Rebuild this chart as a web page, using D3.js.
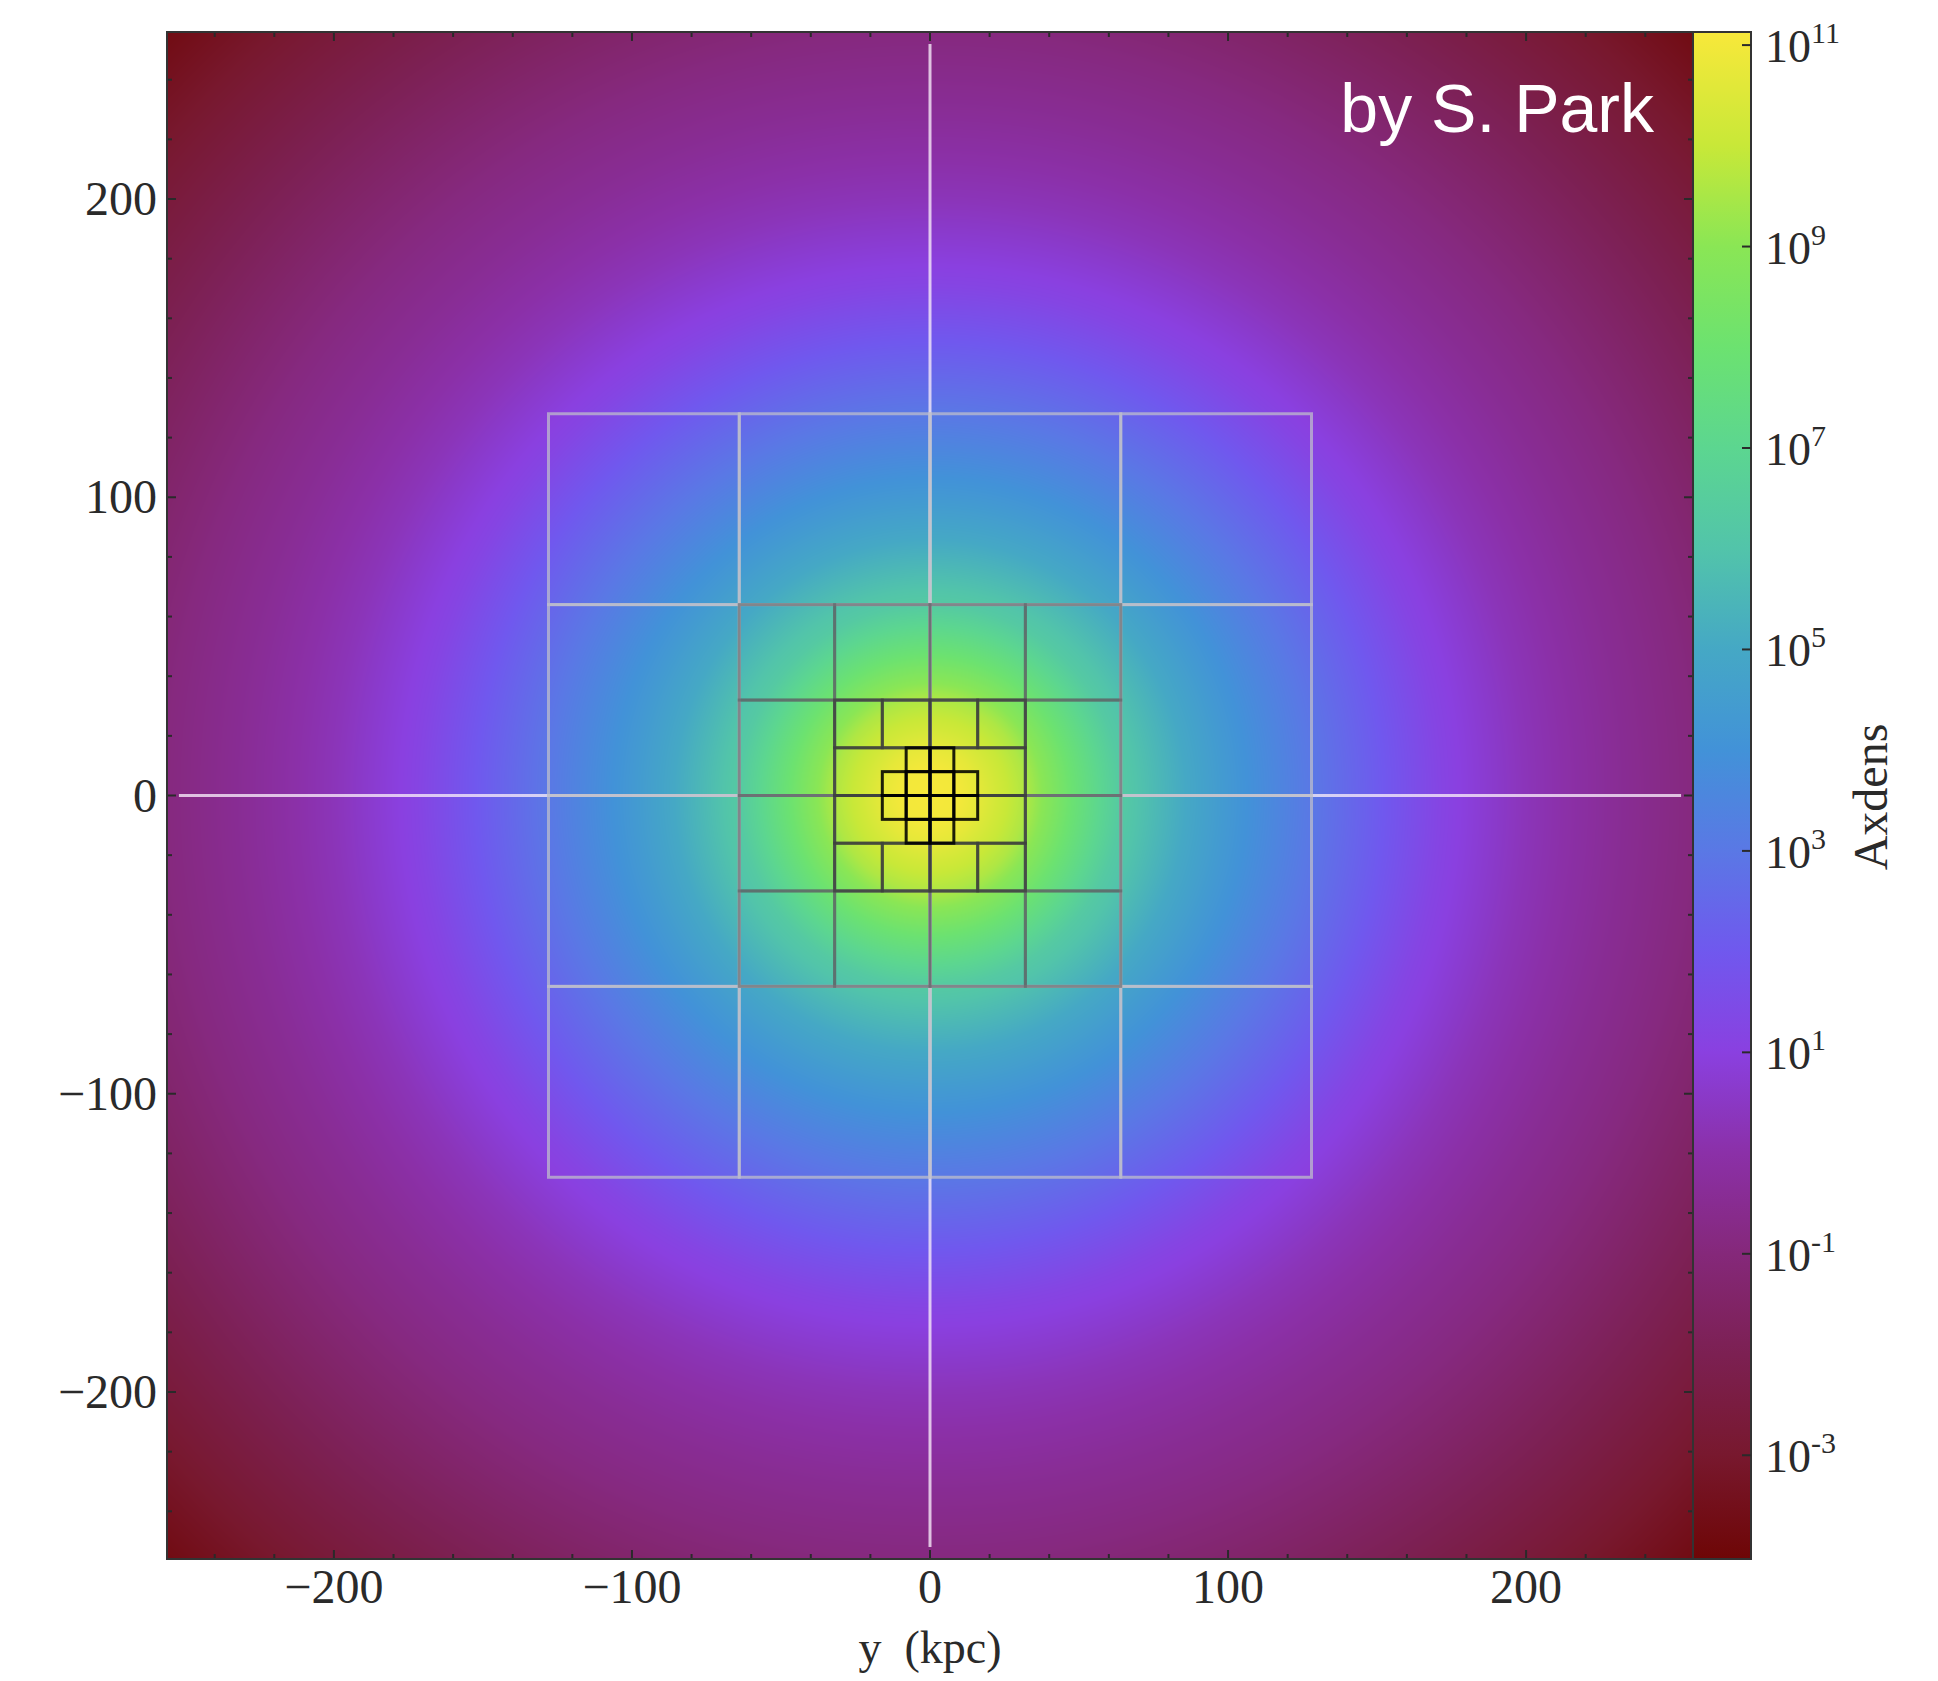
<!DOCTYPE html>
<html>
<head>
<meta charset="utf-8">
<script src="https://cdn.jsdelivr.net/npm/d3@7"></script>
<style>
  html, body { margin: 0; padding: 0; background: #ffffff; }
  svg { display: block; }
</style>
</head>
<body>
<svg id="chart" width="1938" height="1681"></svg>
<script>
// ---- Data -------------------------------------------------------------
// Radial density profile of the halo: radius (kpc) and log10(Axdens)
const profileRadius = [0, 10, 16, 20, 32, 48, 64, 86, 100, 128, 150, 171, 200, 230, 256, 300, 330, 365];
const profileLogDens = [11.1, 11.0, 10.7, 10.4, 9.6, 7.9, 6.3, 5.0, 4.3, 3.0, 2.1, 1.2, 0.3, -0.4, -0.9, -2.0, -2.8, -3.8];

// Colour map: log10(Axdens) stops and colours
const cmapLog = [-4.03, -3, -2, -1, 0, 1, 2, 3, 4, 5, 6, 7, 8, 9, 10, 11.13];
const cmapColor = ["#6e0606", "#78182e", "#7c2052", "#85287a", "#8b30a8", "#8a40e0", "#7058ee", "#5a78e5",
                   "#4292d8", "#45a8c5", "#52c4aa", "#5cd690", "#6ce270", "#8ae655", "#c8e838", "#f8e83a"];

// Axis ticks (kpc) and colour-bar ticks (log10)
const majorTicks = [-200, -100, 0, 100, 200];
const minorTicks = [-240, -220, -180, -160, -140, -120, -80, -60, -40, -20, 20, 40, 60, 80, 120, 140, 160, 180, 220, 240];
const cbarTicks = [-3, -1, 1, 3, 5, 7, 9, 11];
const domainKpc = [-256, 256];
const crossExtent = [-252, 252];

// Mesh blocks per refinement level: [x0, y0, width, height] in kpc
const meshLevel0 = [
  [-128, 64, 64, 64], [-64, 64, 64, 64], [0, 64, 64, 64], [64, 64, 64, 64],
  [-128, 0, 64, 64], [-64, 0, 64, 64], [0, 0, 64, 64], [64, 0, 64, 64],
  [-128, -64, 64, 64], [-64, -64, 64, 64], [0, -64, 64, 64], [64, -64, 64, 64],
  [-128, -128, 64, 64], [-64, -128, 64, 64], [0, -128, 64, 64], [64, -128, 64, 64]
];
const meshLevel1 = [
  [-64, 32, 32, 32], [-32, 32, 32, 32], [0, 32, 32, 32], [32, 32, 32, 32],
  [-64, 0, 32, 32], [-32, 0, 32, 32], [0, 0, 32, 32], [32, 0, 32, 32],
  [-64, -32, 32, 32], [-32, -32, 32, 32], [0, -32, 32, 32], [32, -32, 32, 32],
  [-64, -64, 32, 32], [-32, -64, 32, 32], [0, -64, 32, 32], [32, -64, 32, 32]
];
const meshLevel2 = [
  [-32, 16, 16, 16], [-16, 16, 16, 16], [0, 16, 16, 16], [16, 16, 16, 16],
  [-32, 0, 32, 16], [0, 0, 32, 16], [-32, -16, 32, 16], [0, -16, 32, 16],
  [-32, -32, 16, 16], [-16, -32, 16, 16], [0, -32, 16, 16], [16, -32, 16, 16]
];
const meshLevel3 = [
  [-8, 8, 8, 8], [0, 8, 8, 8],
  [-16, 0, 8, 8], [-8, 0, 8, 8], [0, 0, 8, 8], [8, 0, 8, 8],
  [-16, -8, 8, 8], [-8, -8, 8, 8], [0, -8, 8, 8], [8, -8, 8, 8],
  [-8, -16, 8, 8], [0, -16, 8, 8]
];

// ---- Layout -----------------------------------------------------------
const plot = { left: 167, top: 32, right: 1693, bottom: 1559 };
const cbar = { left: 1693, right: 1751 };
const serif = "'Liberation Serif', 'Times New Roman', serif";

const svg = d3.select("#chart");
const x = d3.scaleLinear().domain(domainKpc).range([plot.left, plot.right]);
const y = d3.scaleLinear().domain(domainKpc).range([plot.bottom, plot.top]);
const profile = d3.scaleLinear().domain(profileRadius).range(profileLogDens).clamp(true);
const color = d3.scaleLinear().domain(cmapLog).range(cmapColor).interpolate(d3.interpolateRgb).clamp(true);
const cy = d3.scaleLinear().domain([cmapLog[0], cmapLog[cmapLog.length - 1]]).range([plot.bottom, plot.top]);

// ---- Density image ----------------------------------------------------
const W = plot.right - plot.left, H = plot.bottom - plot.top;
const canvas = document.createElement("canvas");
canvas.width = W; canvas.height = H;
const ctx = canvas.getContext("2d");
const img = ctx.createImageData(W, H);
// lookup table of colours against radius, 0.05 kpc steps
const step = 0.05, lutN = Math.ceil(400 / step);
const lut = new Uint8Array(lutN * 3);
for (let i = 0; i < lutN; i++) {
  const c = d3.rgb(color(profile(i * step)));
  lut[i * 3] = c.r; lut[i * 3 + 1] = c.g; lut[i * 3 + 2] = c.b;
}
for (let j = 0; j < H; j++) {
  const yk = y.invert(plot.top + j + 0.5);
  for (let i = 0; i < W; i++) {
    const xk = x.invert(plot.left + i + 0.5);
    const r = Math.sqrt(xk * xk + yk * yk);
    const k = Math.min(lutN - 1, Math.round(r / step)) * 3;
    const p = (j * W + i) * 4;
    img.data[p] = lut[k]; img.data[p + 1] = lut[k + 1]; img.data[p + 2] = lut[k + 2]; img.data[p + 3] = 255;
  }
}
ctx.putImageData(img, 0, 0);
svg.append("image")
  .attr("x", plot.left).attr("y", plot.top)
  .attr("width", W).attr("height", H)
  .attr("preserveAspectRatio", "none")
  .attr("href", canvas.toDataURL());

// ---- Centre cross -----------------------------------------------------
const cross = svg.append("g").attr("stroke", "rgba(245,232,248,0.8)").attr("stroke-width", 3);
cross.append("line").attr("x1", x(0)).attr("x2", x(0)).attr("y1", y(crossExtent[1])).attr("y2", y(crossExtent[0]));
cross.append("line").attr("y1", y(0)).attr("y2", y(0)).attr("x1", x(crossExtent[0])).attr("x2", x(crossExtent[1]));

// ---- Mesh blocks ------------------------------------------------------
function drawMesh(blocks, stroke, width) {
  svg.append("g").selectAll("rect").data(blocks).join("rect")
    .attr("x", d => x(d[0]))
    .attr("y", d => y(d[1] + d[3]))
    .attr("width", d => x(d[0] + d[2]) - x(d[0]))
    .attr("height", d => y(d[1]) - y(d[1] + d[3]))
    .attr("fill", "none")
    .attr("stroke", stroke)
    .attr("stroke-width", width);
}
drawMesh(meshLevel0, "rgba(192,192,202,0.72)", 3);
drawMesh(meshLevel1, "rgba(95,98,102,0.62)", 3);
drawMesh(meshLevel2, "rgba(60,62,60,0.72)", 3);
drawMesh(meshLevel3, "rgba(0,0,0,0.88)", 3);

// ---- Label -----------------------------------------------------------
svg.append("text")
  .attr("x", 1654).attr("y", 132)
  .attr("text-anchor", "end")
  .attr("fill", "#ffffff")
  .attr("font-family", "'Liberation Sans', Arial, sans-serif")
  .attr("font-size", 68)
  .text("by S. Park");

// ---- Axes -------------------------------------------------------------
const ink = "#2a2a2a";
const ticks = svg.append("g").attr("stroke", ink).attr("stroke-width", 2);
function tickSet(values, len) {
  values.forEach(v => {
    ticks.append("line").attr("x1", x(v)).attr("x2", x(v)).attr("y1", plot.bottom).attr("y2", plot.bottom - len);
    ticks.append("line").attr("x1", x(v)).attr("x2", x(v)).attr("y1", plot.top).attr("y2", plot.top + len);
    ticks.append("line").attr("y1", y(v)).attr("y2", y(v)).attr("x1", plot.left).attr("x2", plot.left + len);
    ticks.append("line").attr("y1", y(v)).attr("y2", y(v)).attr("x1", plot.right).attr("x2", plot.right - len);
  });
}
tickSet(minorTicks, 5);
tickSet(majorTicks, 9);

const fmt = v => (v < 0 ? "\u2212" + Math.abs(v) : String(v));
svg.append("g").selectAll("text").data(majorTicks).join("text")
  .attr("x", d => x(d)).attr("y", plot.bottom + 44)
  .attr("text-anchor", "middle")
  .attr("font-family", serif).attr("font-size", 48).attr("fill", ink)
  .text(fmt);
svg.append("g").selectAll("text").data(majorTicks).join("text")
  .attr("x", plot.left - 10).attr("y", d => y(d) + 16)
  .attr("text-anchor", "end")
  .attr("font-family", serif).attr("font-size", 48).attr("fill", ink)
  .text(fmt);

svg.append("text")
  .attr("x", x(0)).attr("y", 1663)
  .attr("text-anchor", "middle")
  .attr("font-family", serif).attr("font-size", 46).attr("fill", ink)
  .attr("xml:space", "preserve")
  .text("y  (kpc)");

svg.append("rect")
  .attr("x", plot.left).attr("y", plot.top).attr("width", W).attr("height", H)
  .attr("fill", "none").attr("stroke", "#333").attr("stroke-width", 2);

// ---- Colour bar -------------------------------------------------------
const grad = svg.append("defs").append("linearGradient")
  .attr("id", "cbarGrad").attr("x1", 0).attr("x2", 0).attr("y1", 1).attr("y2", 0);
grad.selectAll("stop").data(cmapLog).join("stop")
  .attr("offset", d => (d - cmapLog[0]) / (cmapLog[cmapLog.length - 1] - cmapLog[0]))
  .attr("stop-color", (d, i) => cmapColor[i]);
svg.append("rect")
  .attr("x", cbar.left).attr("y", plot.top)
  .attr("width", cbar.right - cbar.left).attr("height", H)
  .attr("fill", "url(#cbarGrad)")
  .attr("stroke", "#333").attr("stroke-width", 2);

svg.append("g").attr("stroke", ink).attr("stroke-width", 2)
  .selectAll("line").data(cbarTicks).join("line")
  .attr("x1", cbar.right).attr("x2", cbar.right - 9)
  .attr("y1", d => cy(d)).attr("y2", d => cy(d));

const cl = svg.append("g").selectAll("text").data(cbarTicks).join("text")
  .attr("x", cbar.right + 14).attr("y", d => cy(d) + 17)
  .attr("font-family", serif).attr("font-size", 46).attr("fill", ink);
cl.append("tspan").text("10");
cl.append("tspan").attr("dy", -19).attr("font-size", 30)
  .text(d => (d < 0 ? "-" + Math.abs(d) : String(d)));

svg.append("text")
  .attr("transform", "translate(1887,797) rotate(-90)")
  .attr("text-anchor", "middle")
  .attr("font-family", serif).attr("font-size", 48).attr("fill", ink)
  .text("Axdens");
</script>
</body>
</html>
